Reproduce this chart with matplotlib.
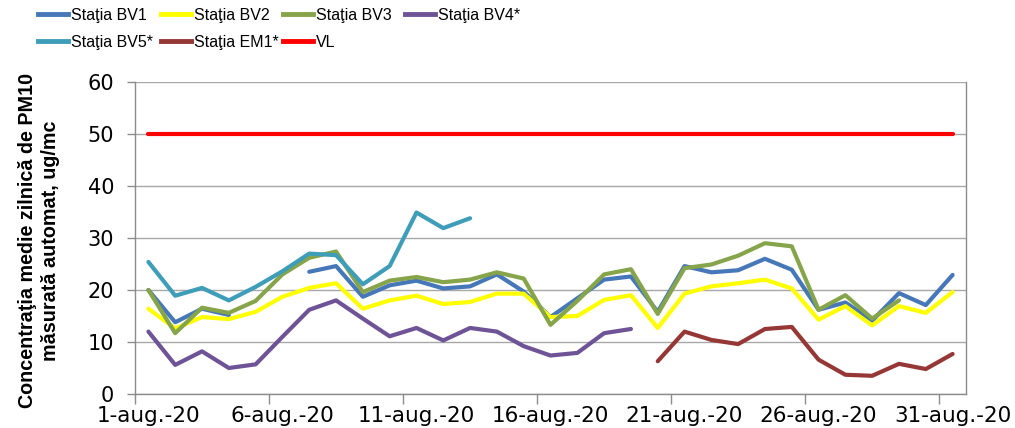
"""PM10 daily mean concentrations, Brasov stations, August 2020."""

import numpy as np
import matplotlib

matplotlib.use("Agg")
import matplotlib.pyplot as plt
from matplotlib.lines import Line2D


nan = np.nan

days = np.arange(1, 32)
tick_labels = [f"{d}-aug.-20" for d in days[::5]]

bv1 = [20.0, 13.8, 16.4, 15.2, nan, nan, 23.5, 24.6, 18.7, 20.9, 21.8, 20.3, 20.7, 23.0, 19.7, 14.8,
       18.4, 22.0, 22.6, 15.8, 24.6, 23.4, 23.8, 26.0, 23.9, 16.2, 17.6, 14.1, 19.4, 17.1, 22.9]
bv2 = [16.4, 12.6, 14.8, 14.4, 15.8, 18.7, 20.4, 21.3, 16.4, 18.0, 18.9, 17.3, 17.7, 19.3, 19.3, 14.8,
       15.0, 18.1, 19.0, 12.7, 19.3, 20.7, 21.3, 22.0, 20.3, 14.3, 16.9, 13.2, 16.9, 15.6, 19.6]
bv3 = [20.0, 11.7, 16.6, 15.6, 17.9, 23.0, 26.2, 27.4, 19.6, 21.8, 22.5, 21.5, 22.0, 23.4, 22.2, 13.3,
       17.9, 23.0, 24.0, 15.4, 24.2, 24.9, 26.6, 29.0, 28.4, 16.2, 19.0, 14.5, 18.0, nan, nan]
bv4 = [12.0, 5.6, 8.2, 5.0, 5.7, 11.0, 16.2, 18.0, 14.5, 11.1, 12.7, 10.3, 12.7, 12.0, 9.2, 7.4,
       7.9, 11.7, 12.5] + [nan] * 12
bv5 = [25.4, 18.9, 20.4, 18.0, 20.6, 23.6, 27.0, 26.7, 21.1, 24.6, 34.9, 31.9, 33.8] + [nan] * 18
em1 = [nan] * 19 + [6.3, 12.0, 10.4, 9.6, 12.5, 12.9, 6.6, 3.7, 3.5, 5.8, 4.8, 7.7]
vl = [50.0] * 31

series = [
    ("Staţia BV1", bv1, "#4677B8"),
    ("Staţia BV2", bv2, "#FFFF00"),
    ("Staţia BV3", bv3, "#86A44A"),
    ("Staţia BV4*", bv4, "#6E5396"),
    ("Staţia BV5*", bv5, "#3E9DB8"),
    ("Staţia EM1*", em1, "#953735"),
    ("VL", vl, "#FF0000"),
]

W, H = 1015, 428
fig = plt.figure(figsize=(W / 100, H / 100), dpi=100)
ax = fig.add_axes([135 / W, 34 / H, 831 / W, 312 / H])

for label, values, color in series:
    ax.plot(days, values, color=color, linewidth=3, label=label,
            solid_capstyle="round", solid_joinstyle="round")

ax.set_xlim(0.5, 31.5)
ax.set_ylim(0, 60)

# ticks sit on category boundaries, labels centred on the day
ax.set_xticks(days[::5] - 0.5)
ax.set_xticklabels([])
ax.set_xticks(days[::5], minor=True)
ax.set_xticklabels(tick_labels, minor=True, fontsize=15.5, family="DejaVu Sans")
ax.tick_params(axis="x", which="major", direction="out", length=7, width=1, color="#8C8C8C")
ax.tick_params(axis="x", which="minor", length=0, pad=9)

ax.set_yticks(range(0, 61, 10))
ax.tick_params(axis="y", direction="out", length=6, width=1, color="#8C8C8C", pad=9,
               labelsize=15)
for lab in ax.get_yticklabels():
    lab.set_family("DejaVu Sans")

ax.grid(axis="y", color="#A8A8A8", linewidth=1)
ax.set_axisbelow(True)
ax.spines["top"].set_visible(False)
for side in ("left", "bottom", "right"):
    ax.spines[side].set_color("#8C8C8C")
    ax.spines[side].set_linewidth(1)

fig.text(39 / W, 1 - 241 / H,
         "Concentraţia medie zilnică de PM10\nmăsurată automat, ug/mc",
         rotation=90, ha="center", va="center", multialignment="center",
         fontsize=14.2, fontweight="bold", family="Liberation Sans", linespacing=1.3)

# legend laid out by column, as in the original
handles = [Line2D([], [], color=c, linewidth=3.5) for _, _, c in series]
labels = [s[0] for s in series]
columns = [[0, 4], [1, 5], [2, 6], [3]]
col_x = [38, 161, 283, 405]
for idx, x in zip(columns, col_x):
    fig.legend([handles[i] for i in idx], [labels[i] for i in idx],
               loc="upper left", bbox_to_anchor=(x / W, 1 - 8 / H),
               frameon=False, borderpad=0, borderaxespad=0,
               handlelength=1.9, handletextpad=0.15, labelspacing=0.75,
               prop={"family": "Liberation Sans", "size": 11.5})

fig.savefig("out.png", dpi=100)
